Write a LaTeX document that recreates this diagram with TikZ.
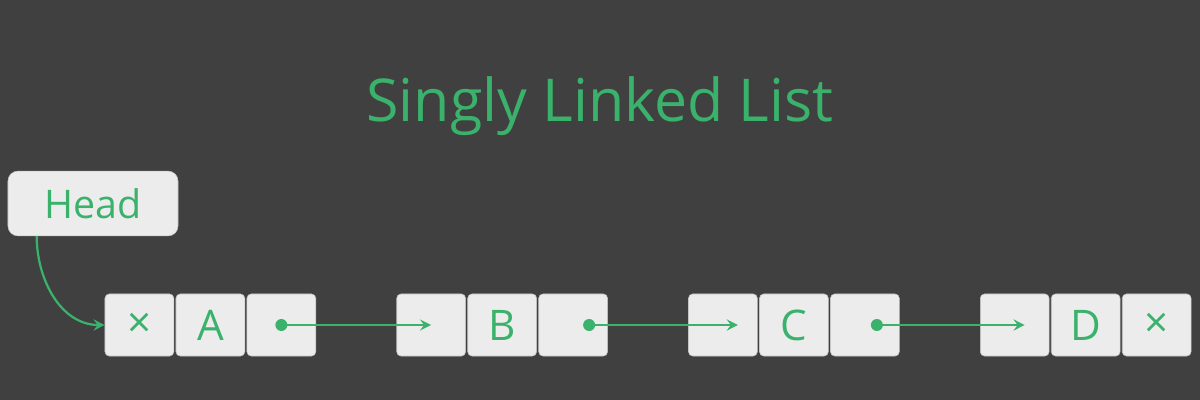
\documentclass[tikz,border=0pt]{standalone}
\usepackage{fontspec}
\setmainfont{Open Sans}
\usetikzlibrary{arrows.meta,positioning,calc}
\definecolor{boardgray}{HTML}{404040}
\definecolor{listgreen}{HTML}{3AB26C}
\definecolor{cellfill}{HTML}{EDECED}
\definecolor{celledge}{HTML}{C4C4C4}

\begin{document}
\begin{tikzpicture}[
    x=0.025cm, y=-0.025cm,
    cell/.style={rectangle, draw=celledge, fill=cellfill, rounded corners=3pt, minimum width=1.72cm, minimum height=1.55cm, inner sep=0pt, text=listgreen, font=\fontsize{30}{30}\selectfont},
    headbox/.style={rectangle, draw=celledge, fill=cellfill, rounded corners=0.25cm, minimum width=4.25cm, minimum height=1.62cm, text=listgreen, font=\fontsize{28}{28}\selectfont},
    link/.style={-{Stealth[length=8pt, width=8pt, inset=3pt]}, listgreen, line width=1.6pt},
    dot/.style={circle, fill=listgreen, inner sep=0pt, minimum size=0.3cm}
]
    % Background
    \fill[boardgray] (0,0) rectangle (1200,400);

    % Title
    \node[text=listgreen, font=\fontsize{42}{42}\selectfont] (title) at (600,106) {Singly Linked List};

    % Head pointer
    \node[headbox] (head) at (93,203.5) {Head};

    % List nodes
    \node[cell] (a1) at (139.4,325) {×};
    \node[cell, right=0.04cm of a1] (a2) {A};
    \node[cell, right=0.04cm of a2] (a3) {};

    \node[cell, right=2.01cm of a3] (b1) {};
    \node[cell, right=0.04cm of b1] (b2) {B};
    \node[cell, right=0.04cm of b2] (b3) {};

    \node[cell, right=2.01cm of b3] (c1) {};
    \node[cell, right=0.04cm of c1] (c2) {C};
    \node[cell, right=0.04cm of c2] (c3) {};

    \node[cell, right=2.01cm of c3] (d1) {};
    \node[cell, right=0.04cm of d1] (d2) {D};
    \node[cell, right=0.04cm of d2] (d3) {×};

    % Next pointers
    \node[dot] (pa) at (a3.center) {};
    \node[dot] (pb) at ($(b3.center)+(16,0)$) {};
    \node[dot] (pc) at ($(c3.center)+(12,0)$) {};
    \coordinate (tb) at ($(b1.center)+(0,0)$);
    \coordinate (tc) at ($(c1.center)+(15,0)$);
    \coordinate (td) at ($(d1.center)+(10,0)$);
    \coordinate (hs) at ($(head.south west)+(29,0)$);

    % Arrows
    \draw[link] (hs) to[out=-90, in=180] (a1.west);
    \draw[link] (pa.center) -- (tb);
    \draw[link] (pb.center) -- (tc);
    \draw[link] (pc.center) -- (td);
\end{tikzpicture}
\end{document}
